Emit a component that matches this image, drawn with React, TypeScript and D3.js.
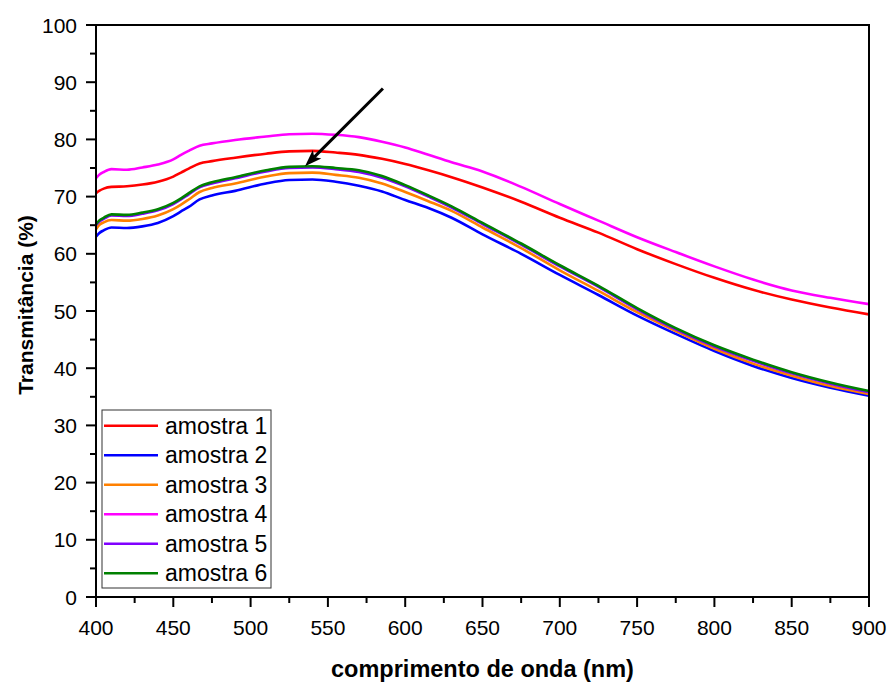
import React from "react";
import * as d3 from "d3";

const wavelengths = [400, 402, 405, 410, 420, 430, 440, 450, 455, 460, 467, 475, 490, 510, 525, 540, 555, 570, 585, 600, 615, 630, 650, 675, 700, 725, 750, 775, 800, 825, 850, 875, 900];

const amostra1 = [70.6, 71.0, 71.4, 71.7, 71.8, 72.1, 72.6, 73.5, 74.2, 74.9, 75.8, 76.2, 76.8, 77.5, 77.9, 78.0, 77.7, 77.3, 76.6, 75.7, 74.6, 73.4, 71.6, 69.1, 66.3, 63.7, 60.8, 58.2, 55.8, 53.7, 52.0, 50.6, 49.4];
const amostra2 = [63.0, 63.6, 64.1, 64.6, 64.5, 64.8, 65.4, 66.6, 67.4, 68.2, 69.5, 70.2, 71.0, 72.3, 72.9, 73.0, 72.6, 71.9, 70.9, 69.4, 68.0, 66.3, 63.4, 60.0, 56.3, 52.8, 49.2, 46.0, 43.0, 40.4, 38.3, 36.6, 35.2];
const amostra3 = [64.3, 65.0, 65.5, 65.9, 65.8, 66.1, 66.7, 67.8, 68.6, 69.5, 70.8, 71.5, 72.3, 73.5, 74.1, 74.2, 73.8, 73.3, 72.3, 70.8, 69.2, 67.5, 64.6, 61.0, 57.1, 53.5, 49.8, 46.5, 43.4, 40.8, 38.7, 36.9, 35.5];
const amostra4 = [73.2, 73.8, 74.3, 74.8, 74.7, 75.1, 75.6, 76.5, 77.3, 78.0, 78.9, 79.3, 79.9, 80.5, 80.9, 81.0, 80.8, 80.4, 79.6, 78.6, 77.3, 76.0, 74.4, 71.7, 68.7, 65.8, 62.9, 60.3, 57.8, 55.5, 53.6, 52.3, 51.2];
const amostra5 = [65.0, 65.6, 66.1, 66.7, 66.6, 67.0, 67.6, 68.7, 69.5, 70.4, 71.6, 72.3, 73.2, 74.4, 75.0, 75.1, 74.8, 74.3, 73.3, 71.8, 70.0, 68.1, 65.2, 61.6, 57.8, 54.2, 50.3, 46.8, 43.8, 41.3, 39.1, 37.3, 35.8];
const amostra6 = [65.2, 65.8, 66.3, 66.9, 66.8, 67.2, 67.8, 68.9, 69.7, 70.6, 71.8, 72.5, 73.4, 74.6, 75.2, 75.3, 75.0, 74.6, 73.6, 72.0, 70.2, 68.3, 65.4, 61.8, 58.0, 54.4, 50.5, 47.0, 44.0, 41.5, 39.3, 37.5, 36.0];

const seriesNames = ["amostra 1", "amostra 2", "amostra 3", "amostra 4", "amostra 5", "amostra 6"];
const seriesValues = [amostra1, amostra2, amostra3, amostra4, amostra5, amostra6];
const seriesColors = ["#ff0000", "#0000ff", "#ff8000", "#ff00ff", "#8000ff", "#008000"];

const xTicks = [400, 450, 500, 550, 600, 650, 700, 750, 800, 850, 900];
const xMinorTicks = [425, 475, 525, 575, 625, 675, 725, 775, 825, 875];
const yTicks = [0, 10, 20, 30, 40, 50, 60, 70, 80, 90, 100];
const yMinorTicks = [5, 15, 25, 35, 45, 55, 65, 75, 85, 95];

// arrow annotation (data coords): tail -> tip
const arrowTail = [585.6, 88.9];
const arrowTip = [535.2, 75.3];

const W = 890;
const H = 683;
const L = 96, R = 869, T = 25, B = 597;
const FONT = "'Liberation Sans', Arial, Helvetica, sans-serif";

export default function App() {
  const x = d3.scaleLinear().domain([400, 900]).range([L, R]);
  const y = d3.scaleLinear().domain([0, 100]).range([B, T]);
  const line = d3
    .line<number>()
    .x((_, i) => x(wavelengths[i]))
    .y((v) => y(v))
    .curve(d3.curveMonotoneX);

  const tx = x(arrowTail[0]), ty = y(arrowTail[1]);
  const hx = x(arrowTip[0]), hy = y(arrowTip[1]);
  const ang = Math.atan2(hy - ty, hx - tx);
  const headLen = 17, headW = 6;
  const bx = hx - headLen * Math.cos(ang), by = hy - headLen * Math.sin(ang);
  const p1 = [bx + headW * Math.sin(ang), by - headW * Math.cos(ang)];
  const p2 = [bx - headW * Math.sin(ang), by + headW * Math.cos(ang)];
  const innerX = hx - (headLen - 4) * Math.cos(ang), innerY = hy - (headLen - 4) * Math.sin(ang);

  const legendX0 = 102, legendY0 = 410, legendW = 169, legendH = 178;
  const rowStep = 29.5, firstRow = 425.7;

  return (
    <svg width={W} height={H} style={{ position: "absolute", left: 0, top: 0, background: "#fff" }} fontFamily={FONT}>
      <rect x={0} y={0} width={W} height={H} fill="#fff" />
      {/* series */}
      <g fill="none" strokeWidth={2.6} strokeLinejoin="round">
        {seriesValues.map((vals, i) => (
          <path key={seriesNames[i]} d={line(vals) || ""} stroke={seriesColors[i]} />
        ))}
      </g>
      {/* frame */}
      <rect x={L} y={T} width={R - L} height={B - T} fill="none" stroke="#000" strokeWidth={2} />
      {/* ticks */}
      <g stroke="#000" strokeWidth={2}>
        {xTicks.map((t) => (
          <line key={"xt" + t} x1={x(t)} x2={x(t)} y1={B} y2={B + 10} />
        ))}
        {xMinorTicks.map((t) => (
          <line key={"xm" + t} x1={x(t)} x2={x(t)} y1={B} y2={B + 6} />
        ))}
        {yTicks.map((t) => (
          <line key={"yt" + t} x1={L - 10} x2={L} y1={y(t)} y2={y(t)} />
        ))}
        {yMinorTicks.map((t) => (
          <line key={"ym" + t} x1={L - 6} x2={L} y1={y(t)} y2={y(t)} />
        ))}
      </g>
      <g fontSize={21} fill="#000">
        {xTicks.map((t) => (
          <text key={"xl" + t} x={x(t)} y={635} textAnchor="middle">{t}</text>
        ))}
        {yTicks.map((t) => (
          <text key={"yl" + t} x={77} y={y(t) + 7.5} textAnchor="end">{t}</text>
        ))}
      </g>
      <text x={(L + R) / 2} y={677} textAnchor="middle" fontSize={23.5} fontWeight="bold">comprimento de onda (nm)</text>
      <text transform={`translate(33, 305) rotate(-90)`} textAnchor="middle" fontSize={21} fontWeight="bold">Transmitância (%)</text>
      {/* arrow */}
      <line x1={tx} y1={ty} x2={innerX} y2={innerY} stroke="#000" strokeWidth={3} />
      <polygon points={`${hx},${hy} ${p1[0]},${p1[1]} ${innerX},${innerY} ${p2[0]},${p2[1]}`} fill="#000" />
      {/* legend */}
      <rect x={legendX0} y={legendY0} width={legendW} height={legendH} fill="#fff" stroke="#333" strokeWidth={1} />
      {seriesNames.map((name, i) => {
        const ry = firstRow + i * rowStep;
        return (
          <g key={"lg" + name}>
            <line x1={104} x2={158} y1={ry} y2={ry} stroke={seriesColors[i]} strokeWidth={2.6} />
            <text x={165} y={ry + 8} fontSize={23}>{name}</text>
          </g>
        );
      })}
    </svg>
  );
}
